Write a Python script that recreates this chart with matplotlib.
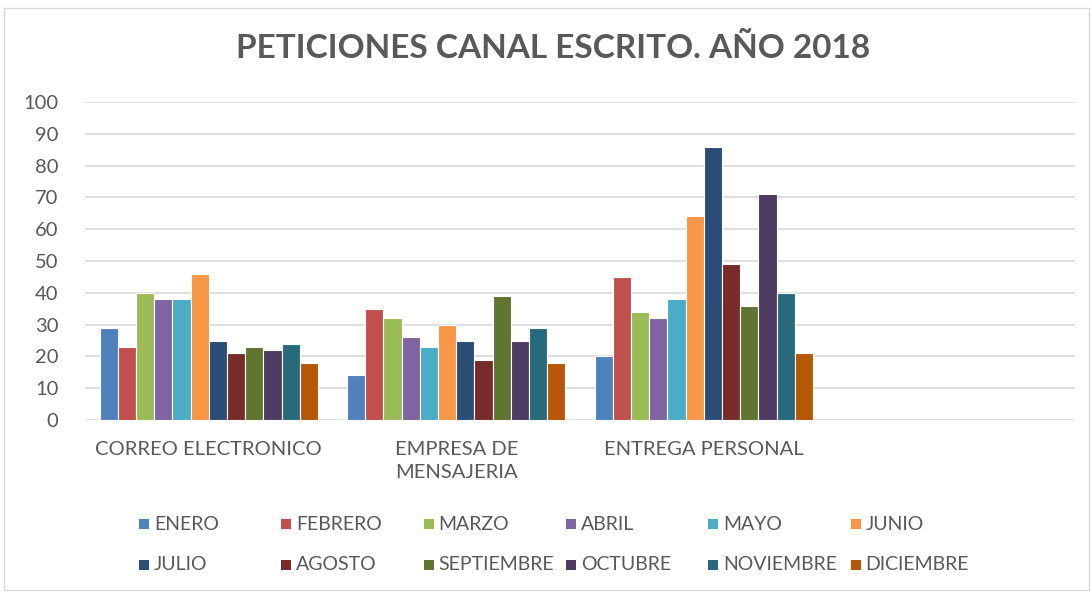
import matplotlib.pyplot as plt
from matplotlib.patches import Rectangle
import numpy as np

# --- data ---
categories = ["CORREO ELECTRONICO", "EMPRESA DE\nMENSAJERIA", "ENTREGA PERSONAL", ""]
months = ["ENERO", "FEBRERO", "MARZO", "ABRIL", "MAYO", "JUNIO",
          "JULIO", "AGOSTO", "SEPTIEMBRE", "OCTUBRE", "NOVIEMBRE", "DICIEMBRE"]
correo = [29, 23, 40, 38, 38, 46, 25, 21, 23, 22, 24, 18]
empresa = [14, 35, 32, 26, 23, 30, 25, 19, 39, 25, 29, 18]
entrega = [20, 45, 34, 32, 38, 64, 86, 49, 36, 71, 40, 21]
vacio = [np.nan] * 12
yticks = list(range(0, 101, 10))

colors = ["#4F81BD", "#C0504D", "#9BBB59", "#8064A2", "#4BACC6", "#F79646",
          "#2C4D75", "#772C2A", "#5F7530", "#4D3B62", "#276A7C", "#B65708"]

values = np.array([correo, empresa, entrega, vacio])  # category x month
text_color = "#595959"
plt.rcParams['font.family'] = ['Lato', 'DejaVu Sans']

fig = plt.figure(figsize=(10.92, 5.93), dpi=100)
ax = fig.add_axes([85 / 1092, 173 / 593, 990 / 1092, 318 / 593])

# --- bars ---
n = len(months)
gap = 1.6
step = 1.0 / (n + gap)
x = np.arange(len(categories))
for i, (m, c) in enumerate(zip(months, colors)):
    offs = (i - (n - 1) / 2) * step
    ax.bar(x + offs, values[:, i], width=step, color=c, edgecolor="white",
           linewidth=0.8, label=m, zorder=3)

# --- axes formatting ---
ax.set_xlim(-0.5, len(categories) - 0.5)
ax.set_ylim(0, 100)
ax.set_yticks(yticks)
ax.set_xticks(x)
ax.set_xticklabels(categories, fontsize=14.5, color=text_color, linespacing=1.45)
ax.tick_params(axis="y", labelsize=14.5, labelcolor=text_color, length=0, pad=19)
ax.tick_params(axis="x", length=0, pad=15)
ax.grid(axis="y", color="#D9D9D9", linewidth=1.2, zorder=0)
for s in ax.spines.values():
    s.set_visible(False)

# --- title ---
fig.text(553 / 1092, 1 - 48 / 593, "PETICIONES CANAL ESCRITO. AÑO 2018",
         ha="center", va="center", fontsize=24, fontweight="bold", color=text_color)

# --- legend (Excel-style evenly spaced grid) ---
for i, (m, c) in enumerate(zip(months, colors)):
    col, row = i % 6, i // 6
    px = 139 + col * 142.3
    py = 524 + row * 41
    fig.patches.append(Rectangle((px / 1092, 1 - (py + 5) / 593), 10 / 1092, 10 / 593,
                                 transform=fig.transFigure, facecolor=c, edgecolor="none"))
    fig.text((px + 15) / 1092, 1 - py / 593, m, ha="left", va="center",
             fontsize=14, color=text_color)

# --- chart border ---
fig.patches.append(Rectangle((4 / 1092, 3 / 593), 1085 / 1092, 582 / 593,
                             transform=fig.transFigure, facecolor="none",
                             edgecolor="#D9D9D9", linewidth=1))

fig.savefig("out.png", dpi=100)
